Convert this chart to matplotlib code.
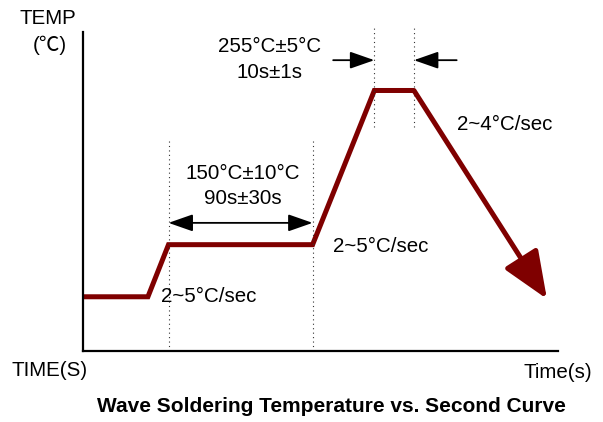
import matplotlib.pyplot as plt

plt.rcParams['font.family'] = ['Liberation Sans', 'Noto Sans CJK SC', 'DejaVu Sans']

# schematic profile (time units, temp units)
time = [0, 41, 54, 145, 184, 209]
temp = [51, 51, 100, 100, 245, 245]
end_time = 293
end_temp = 49

soak_start, soak_end = 54, 145
peak_start, peak_end = 184, 209

red = '#7f0000'

fig = plt.figure(figsize=(6.03, 4.22), dpi=100)
ax = fig.add_axes([83 / 603, 71 / 422, 475 / 603, 319 / 422])
ax.set_xlim(0, 300)
ax.set_ylim(0, 300)
ax.set_xticks([])
ax.set_yticks([])
for s in ['top', 'right']:
    ax.spines[s].set_visible(False)
for s in ['left', 'bottom']:
    ax.spines[s].set_linewidth(1.6)

# curve
ax.plot(time, temp, color=red, lw=3.6, solid_joinstyle='miter', solid_capstyle='butt', clip_on=False)
ax.annotate('', xy=(end_time, end_temp), xytext=(time[-1], temp[-1]),
            arrowprops=dict(arrowstyle='-|>,head_length=1.45,head_width=0.6', mutation_scale=20,
                            lw=3.6, color=red, shrinkA=0, shrinkB=0))

# dotted guides
dot = dict(color='#333333', lw=0.8, linestyle=(0, (1, 3)), clip_on=False)
for x in [soak_start, soak_end]:
    ax.plot([x, x], [0, 198], **dot)
for x in [peak_start, peak_end]:
    ax.plot([x, x], [211, 307], **dot)

# arrows
ap = dict(arrowstyle='-|>,head_length=1.0,head_width=0.35', mutation_scale=15,
          lw=1.3, color='black', shrinkA=0, shrinkB=0)
ax.annotate('', xy=(soak_end, 120.5), xytext=(soak_start, 120.5),
            arrowprops=dict(ap, arrowstyle='<|-|>,head_length=1.0,head_width=0.35'))
ax.annotate('', xy=(peak_start, 273.5), xytext=(158, 273.5), arrowprops=ap)
ax.annotate('', xy=(peak_end, 273.5), xytext=(236, 273.5), arrowprops=ap)

fs = 14.8
kw = dict(fontsize=fs, transform=fig.transFigure)

def px(x, y):
    return x / 603, 1 - y / 422

fig.text(*px(20, 18), 'TEMP', ha='left', va='center', **kw)
fig.text(*px(50, 45), '(℃)', ha='center', va='center', **kw)
fig.text(*px(270, 47), '255°C±5°C', ha='center', va='center', **kw)
fig.text(*px(270, 73), '10s±1s', ha='center', va='center', **kw)
fig.text(*px(457, 125), '2~4°C/sec', ha='left', va='center', **kw)
fig.text(*px(243, 173), '150°C±10°C', ha='center', va='center', **kw)
fig.text(*px(243, 198), '90s±30s', ha='center', va='center', **kw)
fig.text(*px(161, 297), '2~5°C/sec', ha='left', va='center', **kw)
fig.text(*px(333, 247), '2~5°C/sec', ha='left', va='center', **kw)
fig.text(*px(12, 370), 'TIME(S)', ha='left', va='center', **kw)
fig.text(*px(592, 372), 'Time(s)', ha='right', va='center', **kw)
fig.text(*px(331, 407), 'Wave Soldering Temperature vs. Second Curve', ha='center', va='center',
         fontsize=15, fontweight='bold', transform=fig.transFigure)

fig.savefig('out.png', dpi=100)
